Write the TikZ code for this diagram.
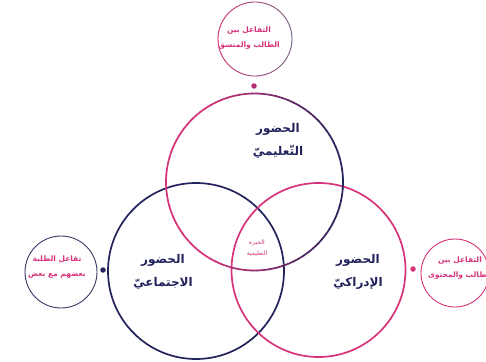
\documentclass[tikz,border=0pt]{standalone}
\usepackage{fontspec}
\TeXXeTstate=1
\newfontfamily\arabicfont[Script=Arabic]{DejaVu Sans}
\newfontfamily\arabicbold[Script=Arabic]{DejaVu Sans Bold}
\definecolor{pinkc}{RGB}{214,51,122}
\definecolor{navyc}{RGB}{34,34,92}
\definecolor{grayc}{RGB}{120,100,130}
\tikzset{
  bigtext/.style={align=center, text=navyc, font=\arabicbold\fontsize{12}{22.5}\selectfont},
  smalltext/.style={align=center, text=pinkc, font=\arabicbold\fontsize{7.5}{15}\selectfont},
  tinytext/.style={align=center, text=pinkc, font=\arabicfont\fontsize{6}{10.5}\selectfont},
  ring/.style={circle, inner sep=0pt},
  dotc/.style={circle, inner sep=0pt, minimum size=5.5pt}
}
\begin{document}
\begin{tikzpicture}[x=1pt,y=-1pt]
\useasboundingbox (0,0) rectangle (486,361);
\fill[white] (0,0) rectangle (486,361);
% circle centres
\node[ring, minimum size=177pt] (top) at (254.5,182) {};
\node[ring, minimum size=176pt] (left) at (196,271) {};
\node[ring, minimum size=174pt] (right) at (318.5,270) {};
\node[ring, minimum size=74pt] (stop) at (255,39) {};
\node[ring, minimum size=72pt] (sleft) at (61,272) {};
\node[ring, minimum size=68pt] (sright) at (455,273) {};
% big circles
\draw[navyc, line width=1.7pt] (left) circle[radius=88];
\draw[pinkc, line width=1.7pt] (right) circle[radius=87];
\foreach \a in {0,4,...,356} {
  \pgfmathsetmacro\p{max(0,min(100,35+65*cos(\a+2)))}
  \draw[line width=1.7pt, draw=navyc!\p!pinkc] ([shift={(\a:88.5)}]top.center) arc[start angle=\a, end angle=\a+4.5, radius=88.5];
}
% small circles
\foreach \a in {0,4,...,356} {
  \pgfmathsetmacro\p{50+50*cos(\a+2)}
  \draw[line width=0.9pt, draw=grayc!\p!pinkc] ([shift={(\a:37)}]stop.center) arc[start angle=\a, end angle=\a+4.5, radius=37];
}
\draw[navyc!75!gray, line width=0.9pt] (sleft) circle[radius=36];
\draw[pinkc, line width=0.9pt] (sright) circle[radius=34];
% dots
\node[dotc, fill=pinkc!80!navyc] (d1) at (254,86) {};
\node[dotc, fill=navyc] (d2) at (103,270) {};
\node[dotc, fill=pinkc] (d3) at (413,269) {};
% texts
\node[bigtext] (t1) at (278,141) {\beginR الحضور\endR\\\beginR التّعليميّ\endR};
\node[bigtext] (t2) at (163,272) {\beginR الحضور\endR\\\beginR الاجتماعيّ\endR};
\node[bigtext] (t3) at (358,272) {\beginR الحضور\endR\\\beginR الإدراكيّ\endR};
\node[tinytext] (t4) at (257,248) {\beginR الخبرة\endR\\\beginR التعليمية\endR};
\node[smalltext] (t5) at (249,38) {\beginR التفاعل بين\endR\\\beginR الطالب والمنسق\endR};
\node[smalltext] (t6) at (57,267) {\beginR تفاعل الطلبة\endR\\\beginR بعضهم مع بعض\endR};
\node[smalltext] (t7) at (460,268) {\beginR التفاعل بين\endR\\\beginR الطالب والمحتوى\endR};
\end{tikzpicture}
\end{document}
